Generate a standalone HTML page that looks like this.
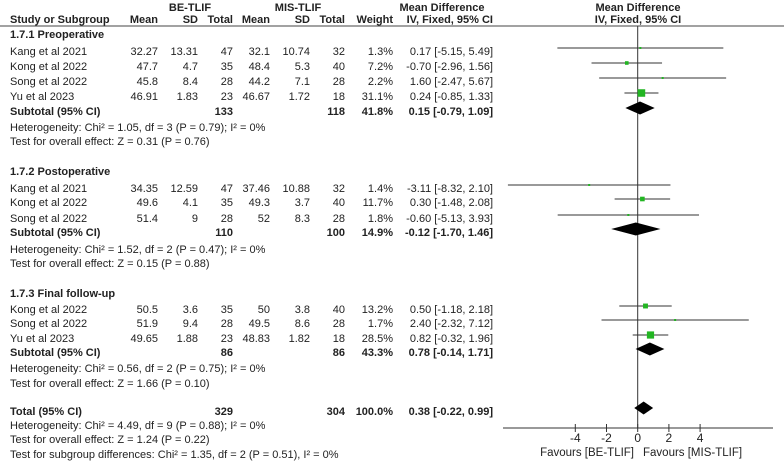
<!DOCTYPE html>
<html><head><meta charset="utf-8"><style>
html,body{margin:0;padding:0;background:#fff;}
svg{display:block;font-family:"Liberation Sans",Arial,sans-serif;font-size:11px;fill:#222;}
.b{font-weight:bold;}
</style></head><body>
<svg id="fp" width="784" height="468" viewBox="0 0 784 468"></svg>
<script>
const studies = ["Kang et al 2021","Kong et al 2022","Song et al 2022","Yu et al 2023","Kang et al 2021","Kong et al 2022","Song et al 2022","Kong et al 2022","Song et al 2022","Yu et al 2023"];
const studyY = [52,67,82,97,189,203,219,310,324,339];
const beMean = ["32.27","47.7","45.8","46.91","34.35","49.6","51.4","50.5","51.9","49.65"];
const beSD = ["13.31","4.7","8.4","1.83","12.59","4.1","9","3.6","9.4","1.88"];
const beN = ["47","35","28","23","47","35","28","35","28","23"];
const misMean = ["32.1","48.4","44.2","46.67","37.46","49.3","52","50","49.5","48.83"];
const misSD = ["10.74","5.3","7.1","1.72","10.88","3.7","8.3","3.8","8.6","1.82"];
const misN = ["32","40","28","18","32","40","28","40","28","18"];
const weights = [1.3,7.2,2.2,31.1,1.4,11.7,1.8,13.2,1.7,28.5];
const md = [0.17,-0.70,1.60,0.24,-3.11,0.30,-0.60,0.50,2.40,0.82];
const lo = [-5.15,-2.96,-2.47,-0.85,-8.32,-1.48,-5.13,-1.18,-2.32,-0.32];
const hi = [5.49,1.56,5.67,1.33,2.10,2.08,3.93,2.18,7.12,1.96];

const sumLabels = ["Subtotal (95% CI)","Subtotal (95% CI)","Subtotal (95% CI)","Total (95% CI)"];
const sumY = [112,233,353,412];
const sumBeN = ["133","110","86","329"];
const sumMisN = ["118","100","86","304"];
const sumW = ["41.8%","14.9%","43.3%","100.0%"];
const sumMd = [0.15,-0.12,0.78,0.38];
const sumLo = [-0.79,-1.70,-0.14,-0.22];
const sumHi = [1.09,1.46,1.71,0.99];

const groupHeads = ["1.7.1 Preoperative","1.7.2 Postoperative","1.7.3 Final follow-up"];
const groupY = [35,172,294];
const notes = ["Heterogeneity: Chi² = 1.05, df = 3 (P = 0.79); I² = 0%","Test for overall effect: Z = 0.31 (P = 0.76)",
"Heterogeneity: Chi² = 1.52, df = 2 (P = 0.47); I² = 0%","Test for overall effect: Z = 0.15 (P = 0.88)",
"Heterogeneity: Chi² = 0.56, df = 2 (P = 0.75); I² = 0%","Test for overall effect: Z = 1.66 (P = 0.10)",
"Heterogeneity: Chi² = 4.49, df = 9 (P = 0.88); I² = 0%","Test for overall effect: Z = 1.24 (P = 0.22)",
"Test for subgroup differences: Chi² = 1.35, df = 2 (P = 0.51), I² = 0%"];
const notesY = [128,142,250,264,369,384,426,440,455];
const ticks = [-4,-2,0,2,4];

const svg = document.getElementById('fp');
const NS = 'http://www.w3.org/2000/svg';
function xs(v){ return 637.7 + v*15.6; }
const xmin = xs(-8.5), xmax = xs(8.6);
function el(tag, attrs, name){
  const e = document.createElementNS(NS, tag);
  for (const k in attrs) e.setAttribute(k, attrs[k]);
  
  
  svg.appendChild(e); return e;
}
function txt(s, x, y, anchor, bold, name){
  const t = el('text', {x:x, y:y, 'dominant-baseline':'central', 'text-anchor':anchor||'start'}, name);
  if (bold) t.setAttribute('class','b');
  t.textContent = s; return t;
}
const f2 = v => v.toFixed(2);
const ci = (m,l,h) => f2(m)+" ["+f2(l)+", "+f2(h)+"]";

txt("BE-TLIF",190,8,'middle',true,'be-tlif-header');
txt("MIS-TLIF",298,8,'middle',true,'mis-tlif-header');
txt("Mean Difference",442,8,'middle',true,'md-header');
txt("Mean Difference",638,8,'middle',true,'md-plot-header');
txt("Study or Subgroup",10,20,'start',true,'study-col-header');
txt("Mean",158,20,'end',true,'be-mean-header');
txt("SD",198,20,'end',true,'be-sd-header');
txt("Total",233,20,'end',true,'be-total-header');
txt("Mean",270,20,'end',true,'mis-mean-header');
txt("SD",310,20,'end',true,'mis-sd-header');
txt("Total",345,20,'end',true,'mis-total-header');
txt("Weight",393,20,'end',true,'weight-header');
txt("IV, Fixed, 95% CI",493,20,'end',true,'md-ci-header');
txt("IV, Fixed, 95% CI",638,20,'middle',true,'md-plot-subheader');
el('line',{x1:0,y1:26,x2:784,y2:26,stroke:'#444','stroke-width':1},'header-rule');

el('line',{x1:xs(0),y1:26,x2:xs(0),y2:428,stroke:'#333','stroke-width':1},'zero-line');

groupHeads.forEach((g,i)=>txt(g,10,groupY[i],'start',true,'subgroup-heading'));
notes.forEach((n,i)=>txt(n,10,notesY[i],'start',false,'stats-note'));

studies.forEach((s,i)=>{
  const y = studyY[i];
  txt(s,10,y,'start',false,'study-name');
  txt(beMean[i],158,y,'end',false,'be-mean');
  txt(beSD[i],198,y,'end',false,'be-sd');
  txt(beN[i],233,y,'end',false,'be-total');
  txt(misMean[i],270,y,'end',false,'mis-mean');
  txt(misSD[i],310,y,'end',false,'mis-sd');
  txt(misN[i],345,y,'end',false,'mis-total');
  txt(weights[i].toFixed(1)+"%",393,y,'end',false,'weight');
  txt(ci(md[i],lo[i],hi[i]),493,y,'end',false,'md-ci');
  const my = y-4;
  el('line',{x1:Math.max(xmin,xs(lo[i])),y1:my,x2:Math.min(xmax,xs(hi[i])),y2:my,stroke:'#333','stroke-width':1},'ci-line');
  const sz = Math.max(2, Math.sqrt(weights[i])*1.35);
  el('rect',{x:xs(md[i])-sz/2,y:my-sz/2,width:sz,height:sz,fill:'#22b522'},'study-square');
});

sumLabels.forEach((s,i)=>{
  const y = sumY[i];
  txt(s,10,y,'start',true,'summary-label');
  txt(sumBeN[i],233,y,'end',true,'summary-be-total');
  txt(sumMisN[i],345,y,'end',true,'summary-mis-total');
  txt(sumW[i],393,y,'end',true,'summary-weight');
  txt(ci(sumMd[i],sumLo[i],sumHi[i]),493,y,'end',true,'summary-ci');
  const my = y-4;
  const pts = [xs(sumLo[i])+','+my, xs(sumMd[i])+','+(my-6.5), xs(sumHi[i])+','+my, xs(sumMd[i])+','+(my+6.5)].join(' ');
  el('polygon',{points:pts,fill:'#000'},'summary-diamond');
});

el('line',{x1:503,y1:428,x2:773,y2:428,stroke:'#333','stroke-width':1},'x-axis');
ticks.forEach(t=>{
  el('line',{x1:xs(t),y1:424,x2:xs(t),y2:432,stroke:'#333','stroke-width':1},'x-tick');
  const l = txt(String(t),xs(t),438,'middle',false,'x-tick-label');
  l.setAttribute('font-size','12');
});
const fb = txt("Favours [BE-TLIF]",634,453,'end',false,'favours-be-label');
fb.setAttribute('font-size','11.5');
const fm = txt("Favours [MIS-TLIF]",643,453,'start',false,'favours-mis-label');
fm.setAttribute('font-size','11.5');
</script>
</body></html>
